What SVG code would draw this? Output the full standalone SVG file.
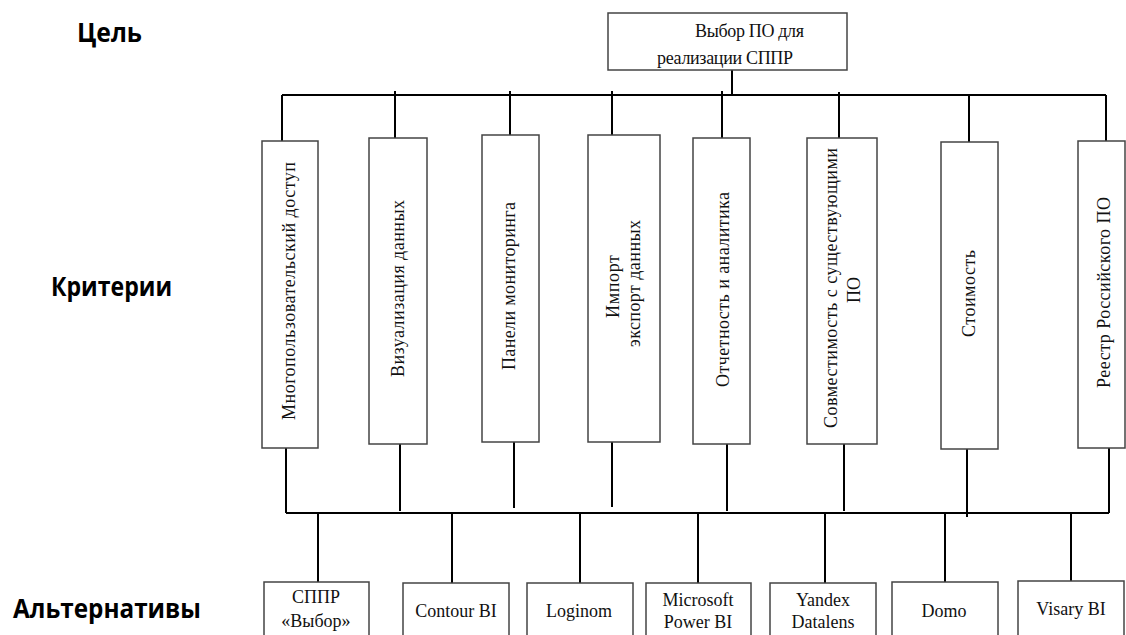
<svg xmlns="http://www.w3.org/2000/svg" width="1126" height="635" viewBox="0 0 1126 635">
<style>
.box{fill:#fff;stroke:#444;stroke-width:1.5}
.c{stroke:#000;stroke-width:2;fill:none}
.t{font-family:"Liberation Serif","Times New Roman",serif;font-size:18px;fill:#111}
.v{font-family:"Liberation Serif","Times New Roman",serif;font-size:18px;fill:#111}
.lab{font-family:"Open Sans","Noto Sans",sans-serif;font-weight:700;font-size:26px;fill:#000}
</style>
<rect width="1126" height="635" fill="#fff"/>
<g id="levels">
<text class="lab" x="77" y="42" textLength="65" lengthAdjust="spacingAndGlyphs">Цель</text>
<text class="lab" x="51" y="296" textLength="121" lengthAdjust="spacingAndGlyphs">Критерии</text>
<text class="lab" x="13" y="618" textLength="188" lengthAdjust="spacingAndGlyphs">Альтернативы</text>
</g>
<g id="connectors">
<path class="c" d="M732 70V95M282 95H1106M282 95V141M395 91V138M510 91V135M612 91V135M722 91V138M839 92V138M969 95V142M1106 95V141"/>
<path class="c" d="M286 448V513M400 444V511M514 442V508M612 442V507M727 444V511M844 444V511M967 449V517M1109 448V513M286 513H1109"/>
<path class="c" d="M318 513V582M452 513V583M580 513V583M698 513V583M825 513V583M945 513V582M1071 513V581"/>
</g>
<g id="goal">
<rect class="box" x="608" y="13" width="239" height="57"/>
<text class="t" x="695" y="37" textLength="109" lengthAdjust="spacing">Выбор ПО для</text>
<text class="t" x="657" y="64" textLength="136" lengthAdjust="spacing">реализации СППР</text>
</g>
<g id="c1"><rect class="box" x="262" y="141" width="56" height="307"/>
<text class="v" transform="translate(295 420) rotate(-90)" textLength="258" lengthAdjust="spacing">Многопользовательский доступ</text></g>
<g id="c2"><rect class="box" x="369" y="138" width="58" height="306"/>
<text class="v" transform="translate(404 377) rotate(-90)" textLength="177" lengthAdjust="spacing">Визуализация данных</text></g>
<g id="c3"><rect class="box" x="482" y="135" width="57" height="307"/>
<text class="v" transform="translate(515 370) rotate(-90)" textLength="168" lengthAdjust="spacing">Панели мониторинга</text></g>
<g id="c4"><rect class="box" x="588" y="135" width="72" height="307"/>
<text class="v" transform="translate(619 318) rotate(-90)" textLength="63" lengthAdjust="spacing">Импорт</text>
<text class="v" transform="translate(640 347) rotate(-90)" textLength="127" lengthAdjust="spacing">экспорт данных</text></g>
<g id="c5"><rect class="box" x="693" y="138" width="57" height="306"/>
<text class="v" transform="translate(729 387) rotate(-90)" textLength="195" lengthAdjust="spacing">Отчетность и аналитика</text></g>
<g id="c6"><rect class="box" x="807" y="138" width="70" height="306"/>
<text class="v" transform="translate(837 428) rotate(-90)" textLength="280" lengthAdjust="spacing">Совместимость с существующими</text>
<text class="v" transform="translate(860 303) rotate(-90)" textLength="26" lengthAdjust="spacing">ПО</text></g>
<g id="c7"><rect class="box" x="941" y="142" width="57" height="307"/>
<text class="v" transform="translate(975 337) rotate(-90)" textLength="87" lengthAdjust="spacing">Стоимость</text></g>
<g id="c8"><rect class="box" x="1078" y="141" width="47" height="307"/>
<text class="v" transform="translate(1110 388) rotate(-90)" textLength="191" lengthAdjust="spacing">Реестр Российского ПО</text></g>
<g id="a1"><rect class="box" x="264" y="582" width="105" height="60"/>
<text class="t" x="316" y="603" text-anchor="middle">СППР</text>
<text class="t" x="316" y="627" text-anchor="middle">«Выбор»</text></g>
<g id="a2"><rect class="box" x="403" y="583" width="106" height="60"/>
<text class="t" x="456" y="617" text-anchor="middle">Contour BI</text></g>
<g id="a3"><rect class="box" x="527" y="583" width="106" height="60"/>
<text class="t" x="579" y="617" text-anchor="middle">Loginom</text></g>
<g id="a4"><rect class="box" x="646" y="583" width="105" height="60"/>
<text class="t" x="698" y="606" text-anchor="middle">Microsoft</text>
<text class="t" x="698" y="628" text-anchor="middle">Power BI</text></g>
<g id="a5"><rect class="box" x="770" y="583" width="106" height="60"/>
<text class="t" x="823" y="606" text-anchor="middle">Yandex</text>
<text class="t" x="823" y="628" text-anchor="middle">Datalens</text></g>
<g id="a6"><rect class="box" x="892" y="582" width="106" height="60"/>
<text class="t" x="944" y="617" text-anchor="middle">Domo</text></g>
<g id="a7"><rect class="box" x="1018" y="581" width="106" height="60"/>
<text class="t" x="1071" y="615" text-anchor="middle">Visary BI</text></g>
</svg>
